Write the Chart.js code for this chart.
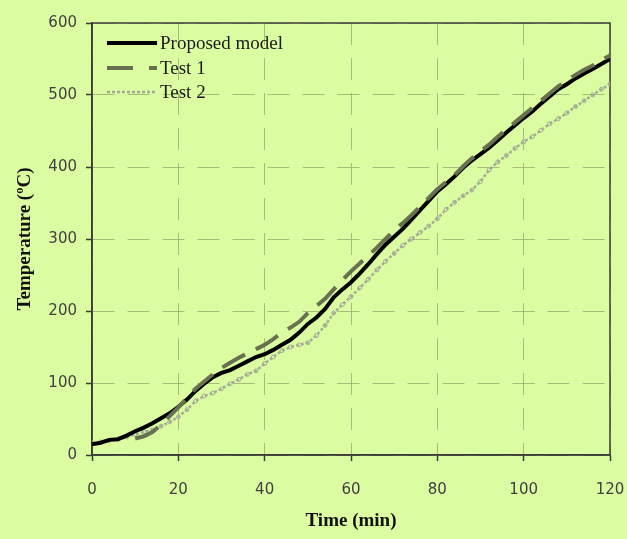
<!DOCTYPE html>
<html><head><meta charset="utf-8">
<script src="https://cdn.jsdelivr.net/npm/chart.js@4/dist/chart.umd.min.js"></script>
<style>html,body{margin:0;padding:0;background:#dcfca2;}#wrap{width:627px;height:539px;}</style>
</head><body><div id="wrap"><canvas id="c" width="627" height="539"></canvas></div>
<script>
const seriesNames = ["Proposed model", "Test 1", "Test 2"];
const timeMin = [0,2,4,6,8,10,12,14,16,18,20,22,24,26,28,30,32,34,36,38,40,42,44,46,48,50,52,54,56,58,60,62,64,66,68,70,72,74,76,78,80,82,84,86,88,90,92,94,96,98,100,102,104,106,108,110,112,114,116,118,120];
const proposedModel = [15,17,21,22,27,33,38,44,51,58,67,77,89,99,108,114,118,124,130,136,140,146,153,160,170,182,191,203,219,230,240,252,265,279,292,303,314,327,340,353,366,376,387,399,409,418,427,437,448,458,468,477,488,498,508,515,523,530,536,543,550];
const test1Time = [10,12,14,16,18,20,22,24,26,28,30,32,34,36,38,40,42,44,46,48,50,52,54,56,58,60,62,64,66,68,70,72,74,76,78,80,82,84,86,88,90,92,94,96,98,100,102,104,106,108,110,112,114,116,118,120];
const test1 = [23,26,32,42,54,66,79,92,102,112,121,128,135,141,147,153,161,170,177,185,197,207,217,230,243,255,266,277,288,300,312,322,333,345,357,369,379,389,401,412,422,431,442,452,462,472,482,492,502,512,520,528,535,541,548,555];
const test2 = [17,18,20,22,25,29,32,35,40,46,53,63,75,82,86,92,99,105,112,117,127,136,145,150,153,156,166,180,197,209,220,232,244,257,269,280,291,300,309,318,328,341,351,360,368,380,396,407,416,426,435,442,451,460,467,475,484,492,500,508,515];
const xTickValues = [0,20,40,60,80,100,120];
const yTickValues = [0,100,200,300,400,500,600];

const gridColor = 'rgba(150,165,110,0.75)';
const axisColor = '#3a3a3a';

const toXY = (xs, ys) => xs.map((x, i) => ({x: x, y: ys[i]}));

const boxPlugin = {
  id: 'box',
  beforeDatasetsDraw(chart) {
    const {ctx, chartArea: a} = chart;
    ctx.save();
    ctx.strokeStyle = axisColor;
    ctx.lineWidth = 1.5;
    ctx.strokeRect(a.left, a.top, a.right - a.left, a.bottom - a.top);
    ctx.restore();
  }
};

const legendPlugin = {
  id: 'insideLegend',
  afterDraw(chart) {
    const ctx = chart.ctx;
    const x0 = 107, x1 = 157, tx = 160;
    const rows = [43, 68, 92];
    ctx.save();
    chart.data.datasets.forEach((ds, i) => {
      const y = rows[i];
      ctx.beginPath();
      ctx.strokeStyle = ds.borderColor;
      ctx.lineWidth = ds.borderWidth;
      ctx.setLineDash(i === 1 ? [26, 16] : (ds.borderDash || []));
      ctx.moveTo(x0, y); ctx.lineTo(x1, y);
      ctx.stroke();
      ctx.setLineDash([]);
      ctx.fillStyle = '#1a1a1a';
      ctx.font = '19px "Liberation Serif"';
      ctx.textBaseline = 'middle';
      ctx.textAlign = 'left';
      ctx.fillText(ds.label, tx, y + 1);
    });
    ctx.restore();
  }
};

new Chart(document.getElementById('c'), {
  type: 'line',
  data: {
    datasets: [
      {label: seriesNames[0], data: toXY(timeMin, proposedModel), borderColor: '#000000', borderWidth: 4, pointRadius: 0, tension: 0, order: 2},
      {label: seriesNames[1], data: toXY(test1Time, test1), borderColor: '#67714f', borderWidth: 4, borderDash: [26, 12], pointRadius: 0, tension: 0, order: 1},
      {label: seriesNames[2], data: toXY(timeMin, test2), borderColor: '#a4ac98', borderWidth: 2.5, borderDash: [3, 2], pointRadius: 2, pointBorderWidth: 1, pointBorderColor: '#a4ac98', pointBackgroundColor: 'rgba(0,0,0,0)', tension: 0, order: 3}
    ]
  },
  options: {
    responsive: false,
    animation: false,
    devicePixelRatio: 1,
    layout: {padding: {left: 0, right: 0, top: 23, bottom: 0}},
    plugins: {legend: {display: false}, tooltip: {enabled: false}},
    scales: {
      x: {
        type: 'linear', min: 0, max: 120,
        afterFit(s) { s.height = 84; s.paddingRight = 17; },
        afterBuildTicks(s) { s.ticks = xTickValues.map(v => ({value: v})); },
        ticks: {color: '#404040', font: {family: 'DejaVu Sans', size: 15}, padding: 20, maxRotation: 0},
        grid: {color: gridColor, lineWidth: 1, tickColor: axisColor, tickLength: 6, tickWidth: 1.5, tickBorderDash: []},
        border: {display: true, color: axisColor, width: 1.5, dash: [22, 13]},
        title: {display: true, text: 'Time (min)', color: '#111', font: {family: 'Liberation Serif', size: 19, weight: 'bold'}, padding: {top: 0, bottom: 7}}
      },
      y: {
        type: 'linear', min: 0, max: 600,
        afterFit(s) { s.width = 92; },
        afterBuildTicks(s) { s.ticks = yTickValues.map(v => ({value: v})); },
        ticks: {color: '#404040', font: {family: 'DejaVu Sans', size: 15}, padding: 9},
        grid: {color: gridColor, lineWidth: 1, tickColor: axisColor, tickLength: 6, tickWidth: 1.5, tickBorderDash: []},
        border: {display: true, color: axisColor, width: 1.5, dash: [22, 13]},
        title: {display: true, text: 'Temperature (ºC)', color: '#111', font: {family: 'Liberation Serif', size: 19, weight: 'bold'}, padding: {top: 14, bottom: 0}}
      }
    }
  },
  plugins: [boxPlugin, legendPlugin]
});
</script>
</body></html>
